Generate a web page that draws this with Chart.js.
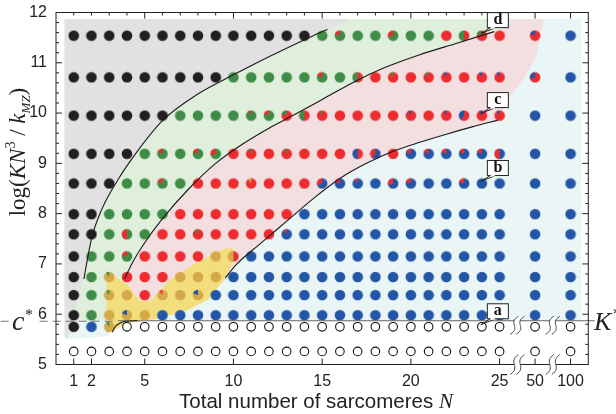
<!DOCTYPE html>
<html>
<head>
<meta charset="utf-8">
<script src="https://cdn.jsdelivr.net/npm/chart.js@4.4.0/dist/chart.umd.min.js"></script>
<style>
  body { margin: 0; background: #fff; }
  canvas { display: block; }
</style>
</head>
<body>
<canvas id="myChart" width="616" height="414"></canvas>
<script>
const ctx = document.getElementById('myChart');

// columns: N = 1..25, then 50 and 100 after the axis break
const colN = [1,2,3,4,5,6,7,8,9,10,11,12,13,14,15,16,17,18,19,20,21,22,23,24,25,50,100];
const colPos = [1,2,3,4,5,6,7,8,9,10,11,12,13,14,15,16,17,18,19,20,21,22,23,24,25,27,29];
const xTickPos = [1,2,5,10,15,20,25,27,29];
const xTickLabels = ['1','2','5','10','15','20','25','50','100'];
const rowVals = [11.54,10.71,9.95,9.19,8.60,7.99,7.59,7.15,6.74,6.38,5.98,5.75,5.26];

// K black, G green, R red, B blue, Y gold, O open circle; 'GR2' = green with a 20% red slice
const row1  = 'K K K K K K K K K K K K K K G GR2 G G GR3 G G R RG5 RG2 R RB2 B'.split(' ');
const row2  = 'K K K K K K K K K G G G G G GR2 G RG5 R RG1 R RG1 RB1 R RB1 RB1 RB3 B'.split(' ');
const row3  = 'K K K K K K G G G G GR1 GR2 RG2 RG5 RG1 R R R R RB1 R RB1 RB4 RB1 RB1 B B'.split(' ');
const row4  = 'K K K K G GR2 G GR2 GR3 R RG1 R RG1 R R R RB5 BR4 R BR2 BR2 BR2 BR2 BR2 BR5 B B'.split(' ');
const row5  = 'K K K G G GR2 G R R R RY1 R R R BR3 BR2 BR1 B BR3 BR2 B B BR2 B B B B'.split(' ');
const row6  = 'K K G G G G R R R R R R R B B B B B B B B B B B B B B'.split(' ');
const row7  = 'K K G GR5 G R R RG1 R R R R BR1 B B B B B B B B B B B B B B'.split(' ');
const row8  = 'K G G GR2 R R R R Y RY5 B B B B B B B B B B B B B B B B B'.split(' ');
const row9  = 'K G YG1 R R R Y Y Y B B B B B B B B B B B B B B B B B B'.split(' ');
const row10 = 'K G YG1 Y R YR1 Y YB2 B B B B B B B B B B B B B B B B B B B'.split(' ');
const row11 = 'K G Y YB2 Y B B B B B B B B B B B B B B B B B B B B B B'.split(' ');
const row12 = 'K B YG1 O O O O O O O O O O O O O O O O O O O O O O O O'.split(' ');
const row13 = 'O O O O O O O O O O O O O O O O O O O O O O O O O O O'.split(' ');
const dotRows = [row1,row2,row3,row4,row5,row6,row7,row8,row9,row10,row11,row12,row13];

// black boundary curves (x = column position, y = log value)
const curve1 = [[1.57,6.70],[2.0,7.5],[2.6,8.1],[3.5,8.68],[4.5,9.2],[6.0,9.85],[8.0,10.38],[10.0,10.76],[12.0,11.12],[14.5,11.54],[15.3,11.66]];
const curve2 = [[3.86,6.70],[4.3,7.02],[5.0,7.42],[6.0,7.9],[7.5,8.5],[9.0,9.0],[10.5,9.38],[12.0,9.7],[13.5,9.98],[15.0,10.27],[16.8,10.62],[18.5,10.9],[20.5,11.16],[22.5,11.38],[24.7,11.62]];
const curve3 = [[9.54,6.72],[10.2,7.0],[11.5,7.4],[13.0,7.85],[14.5,8.3],[16.0,8.7],[17.5,9.0],[19.0,9.24],[20.5,9.42],[22.0,9.58],[23.5,9.73],[24.9,9.86]];
const curveA = [[3.17,5.64],[3.3,5.73],[3.45,5.79],[3.65,5.83],[3.9,5.86],[4.6,5.87]];
const lineK = [[3.5,5.87],[30.36,5.87]];
const lineC = [[-3.12,5.86],[3.2,5.86]];

// shaded phase regions
const blueEdge = [[0.48,5.6],[0.62,5.5],[2.9,5.55],[3.4,5.87],[29.6,5.87],[29.6,11.87],[0.48,11.87]];
const grayLow = [[0.48,5.55],[0.62,5.5]];
const grayTop = [[16.7,11.87],[0.48,11.87]];
const greenTop = [[16.7,11.87],[26.0,11.87]];
const greenLow = [[3.0,6.2],[2.85,5.87],[1.3,5.87]];
const pinkRight = [[26.0,11.87],[27.5,11.87],[27.07,11.12],[26.4,10.7],[25.6,10.33],[25.2,10.05]];
const pinkLow = [[8.6,6.35],[5.0,6.1],[3.5,6.3]];
const yellowEdge = [[2.85,6.75],[3.3,6.75],[4.0,6.6],[4.7,6.27],[5.35,6.27],[6.4,6.68],[7.8,7.0],[9.3,7.28],[9.9,7.32],[10.2,7.2],[9.55,6.72],[8.6,6.3],[7.4,6.08],[5.9,5.92],[4.0,5.82],[3.1,5.65],[2.85,5.62]];

const calloutLetters = ['a','b','c','d'];
const calloutRows = [5.75, 8.60, 9.95, 11.54];
const calloutN = 24;

const dotColors = {K: '#231f20', G: '#3e8c46', R: '#ee2b2e', B: '#2356a6', Y: '#d5a948'};

const pts = arr => arr.map(p => ({x: p[0], y: p[1]}));
const rev = arr => arr.slice().reverse();

const dotPts = [];
const openPts = [];
dotRows.forEach((row, r) => row.forEach((t, c) => {
    const p = {x: colPos[c], y: rowVals[r], t: t};
    if (t === 'O') openPts.push(p); else dotPts.push(p);
}));

const dotCache = {};
function dotImage(t) {
    if (dotCache[t]) return dotCache[t];
    const c = document.createElement('canvas');
    c.width = 12; c.height = 12;
    const g = c.getContext('2d');
    g.fillStyle = dotColors[t[0]];
    g.beginPath(); g.arc(6, 6, 5.3, 0, Math.PI * 2); g.fill();
    if (t.length > 1) {
        g.fillStyle = dotColors[t[1]];
        g.beginPath(); g.moveTo(6, 6);
        g.arc(6, 6, 5.3, -Math.PI / 2, -Math.PI / 2 - Number(t[2]) / 10 * Math.PI * 2, true);
        g.closePath(); g.fill();
    }
    dotCache[t] = c;
    return c;
}

function region(points, color, order) {
    return {type: 'line', data: pts(points), fill: 'shape', backgroundColor: color,
        borderWidth: 0, pointRadius: 0, tension: 0, order: order};
}
function curve(points, color, order, more) {
    return Object.assign({type: 'line', data: pts(points), fill: false, borderColor: color,
        borderWidth: 1.1, pointRadius: 0, cubicInterpolationMode: 'monotone', order: order}, more || {});
}

const serif = '"Liberation Serif", "Times New Roman", serif';
const sans = '"Liberation Sans", Arial, sans-serif';

function squiggle(c, cx, cy, h) {
    const s = (dx) => {
        c.moveTo(cx + dx - 4, cy + h);
        c.bezierCurveTo(cx + dx + 7, cy + h * 0.2, cx + dx - 7, cy - h * 0.2, cx + dx + 4, cy - h);
    };
    c.fillStyle = '#fff';
    c.beginPath();
    s(0);
    c.lineTo(cx + 10, cy - h);
    c.bezierCurveTo(cx - 1, cy - h * 0.2, cx + 13, cy + h * 0.2, cx + 2, cy + h);
    c.closePath(); c.fill();
    c.beginPath(); s(0); s(6); c.stroke();
}

const decor = {
    id: 'decor',
    afterDraw(chart) {
        const {ctx: c, chartArea: a, scales: {x, y}} = chart;
        c.save();
        c.strokeStyle = '#222'; c.lineWidth = 1;
        c.strokeRect(a.left, a.top, a.right - a.left, a.bottom - a.top);
        c.beginPath();
        xTickPos.forEach(v => { const px = x.getPixelForValue(v); c.moveTo(px, a.bottom); c.lineTo(px, a.bottom - 6); });
        for (let n = 1; n <= 25; n++) {
            const px = x.getPixelForValue(n);
            c.moveTo(px, a.top); c.lineTo(px, a.top + (n % 5 === 0 ? 6 : 3));
        }
        [27, 29].forEach(v => { const px = x.getPixelForValue(v); c.moveTo(px, a.top); c.lineTo(px, a.top + 6); });
        for (let i = 0; i <= 35; i++) {
            const v = 5 + i * 0.2;
            const py = y.getPixelForValue(v);
            const len = i % 5 === 0 ? 6 : 3;
            c.moveTo(a.left, py); c.lineTo(a.left + len, py);
            c.moveTo(a.right, py); c.lineTo(a.right - len, py);
        }
        c.stroke();

        // axis breaks
        c.strokeStyle = '#333'; c.lineWidth = 0.9;
        [26, 28].forEach(v => {
            const px = x.getPixelForValue(v) - 3;
            squiggle(c, px, y.getPixelForValue(5.78), 9);
            squiggle(c, px, a.bottom, 10);
        });

        // callout boxes
        c.lineWidth = 1; c.strokeStyle = '#222';
        calloutLetters.forEach((L, i) => {
            const dx = x.getPixelForValue(calloutN), dy = y.getPixelForValue(calloutRows[i]);
            const bx = dx + 5.5, by = dy - 23, bw = 21, bh = 15;
            c.fillStyle = '#fff';
            c.fillRect(bx, by, bw, bh);
            c.strokeRect(bx, by, bw, bh);
            c.beginPath();
            c.moveTo(bx + 3, by + bh); c.lineTo(dx - 1, dy - 2); c.lineTo(bx + 8, by + bh);
            c.closePath(); c.fill();
            c.beginPath();
            c.moveTo(bx + 3, by + bh); c.lineTo(dx - 1, dy - 2); c.lineTo(bx + 8, by + bh);
            c.stroke();
            c.fillRect(bx + 3.5, by + bh - 1, 4, 2);
            c.fillStyle = '#111';
            c.font = 'bold 16px ' + serif;
            c.textAlign = 'center'; c.textBaseline = 'alphabetic';
            c.fillText(L, bx + bw / 2, by + bh - 3.5);
        });

        // c* and K* labels
        const ly = y.getPixelForValue(5.86);
        c.fillStyle = '#fff';
        c.fillRect(11, ly - 11, 24, 18);
        c.fillStyle = '#222';
        c.textAlign = 'left';
        c.font = 'italic 28px ' + serif;
        c.fillText('c', 12, ly + 9);
        c.font = '16px ' + serif;
        c.fillText('*', 25, ly - 1);
        c.font = 'italic 26px ' + serif;
        c.fillText('K', 594, ly + 9);
        c.font = '16px ' + serif;
        c.fillText('*', 613, ly - 2);

        // x title
        c.font = '20.5px ' + sans;
        const t1 = 'Total number of sarcomeres ';
        const w1 = c.measureText(t1).width;
        c.font = 'italic 21px ' + serif;
        const w2 = c.measureText('N').width;
        let sx = 316 - (w1 + w2) / 2;
        c.font = '20.5px ' + sans;
        c.fillText(t1, sx, 408);
        c.font = 'italic 21px ' + serif;
        c.fillText('N', sx + w1, 408);

        // y title
        const parts = [
            {t: 'log(', f: '23px ' + serif, d: 0},
            {t: 'KN', f: 'italic 23px ' + serif, d: 0},
            {t: '3', f: '14px ' + serif, d: -10},
            {t: ' / ', f: '23px ' + serif, d: 0},
            {t: 'k', f: 'italic 23px ' + serif, d: 0},
            {t: 'MZ', f: 'italic 13px ' + serif, d: 5},
            {t: ')', f: '23px ' + serif, d: 0}
        ];
        let tw = 0;
        parts.forEach(p => { c.font = p.f; p.w = c.measureText(p.t).width; tw += p.w; });
        c.translate(25, 152);
        c.rotate(-Math.PI / 2);
        let px = -tw / 2;
        parts.forEach(p => { c.font = p.f; c.fillText(p.t, px, p.d); px += p.w; });
        c.restore();
    }
};

new Chart(ctx, {
    type: 'scatter',
    data: {
        datasets: [
            region(blueEdge, '#eaf6f6', 60),
            region(grayLow.concat(curve1, grayTop), '#e1e1e1', 55),
            region([[0.62,5.5]].concat(curve1, greenTop, rev(curve2), greenLow), '#dfefdb', 54),
            region(curve2.concat(pinkRight, rev(curve3), pinkLow), '#f4dfe0', 53),
            region(yellowEdge, '#f3de7e', 50),
            curve(lineC, '#777', 45, {borderDash: [8, 5], borderWidth: 1.2, clip: false, cubicInterpolationMode: 'default', tension: 0}),
            curve(lineK, '#666', 45, {borderWidth: 1.2, clip: false, cubicInterpolationMode: 'default', tension: 0}),
            {
                label: 'open', data: openPts, pointRadius: 4.3, borderWidth: 1.1,
                borderColor: '#111', backgroundColor: '#fff', order: 30
            },
            {
                label: 'dots', data: dotPts, pointRadius: 5, borderWidth: 0,
                pointStyle: c => (c.raw && c.raw.t) ? dotImage(c.raw.t) : 'circle', order: 30
            },
            curve(curve1, '#1a1a1a', 10),
            curve(curve2, '#1a1a1a', 10),
            curve(curve3, '#1a1a1a', 10),
            curve(curveA, '#1a1a1a', 10)
        ]
    },
    options: {
        responsive: false,
        animation: false,
        events: [],
        layout: {padding: {top: 12.5, right: 27.7, left: 0, bottom: 0}},
        plugins: {legend: {display: false}, tooltip: {enabled: false}},
        scales: {
            x: {
                type: 'linear', min: 0, max: 30,
                afterBuildTicks: s => { s.ticks = xTickPos.map(v => ({value: v})); },
                afterFit: s => { s.height = 49.5; },
                grid: {display: false},
                border: {display: false},
                ticks: {
                    autoSkip: false, maxRotation: 0, padding: -1, color: '#222',
                    font: {family: sans, size: 16},
                    callback: v => xTickLabels[xTickPos.indexOf(v)]
                }
            },
            y: {
                min: 5, max: 12,
                afterFit: s => { s.width = 56; },
                grid: {display: false},
                border: {display: false},
                ticks: {stepSize: 1, padding: 1, color: '#222', font: {family: sans, size: 16}}
            }
        }
    },
    plugins: [decor]
});
</script>
</body>
</html>
